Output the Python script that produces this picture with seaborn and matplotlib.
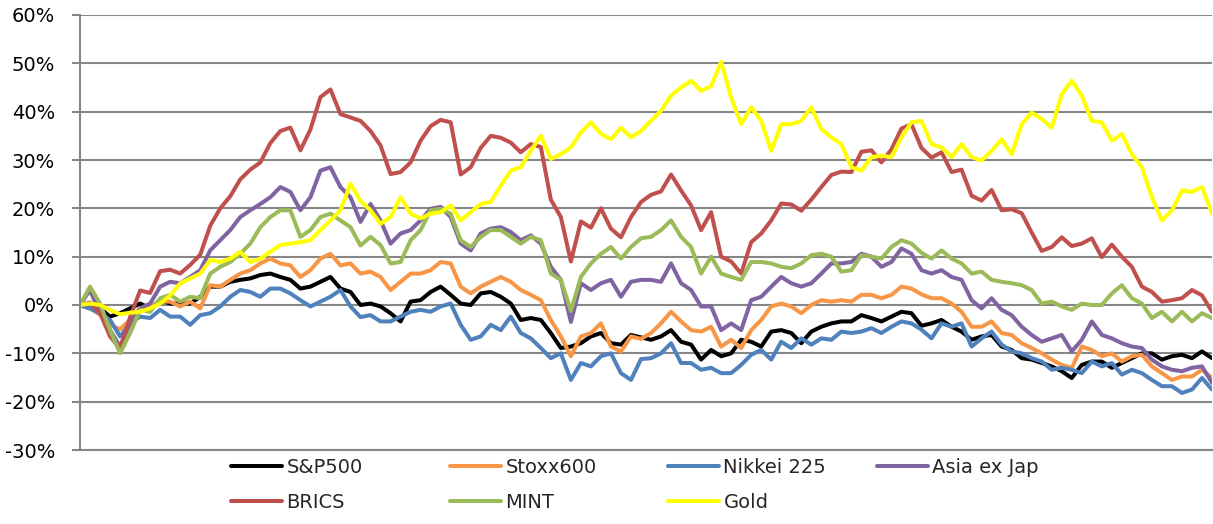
import numpy as np
import pandas as pd
import matplotlib
matplotlib.use("Agg")
import matplotlib.pyplot as plt
import seaborn as sns
from matplotlib.ticker import FuncFormatter, MultipleLocator

# Cumulative performance (%) per weekly observation
sp500 = [0, -0.7, -0.7, -2.4, -1.7, -0.7, 0.3, -0.7, 1, 0.3,
         0.3, 0.3, 1.7, 3.8, 3.8, 4.8, 5.2, 5.5, 6.2, 6.5,
         5.8, 5.2, 3.4, 3.8, 4.8, 5.8, 3.4, 2.7, 0, 0.3,
         -0.3, -1.7, -3.4, 0.7, 1, 2.7, 3.8, 2.1, 0.3, 0,
         2.4, 2.7, 1.7, 0.3, -3.1, -2.7, -3.1, -5.8, -8.9, -8.6,
         -7.9, -6.5, -5.8, -7.9, -8.2, -6.2, -6.7, -7.2, -6.5, -5.2,
         -7.6, -8.2, -11.3, -9.3, -10.6, -10, -7.2, -7.6, -8.6, -5.5,
         -5.2, -5.8, -7.9, -5.5, -4.5, -3.8, -3.4, -3.4, -2.1, -2.7,
         -3.4, -2.4, -1.4, -1.7, -4.3, -3.8, -3.1, -4.5, -5.5, -7.2,
         -6.5, -6.2, -8.6, -9.3, -11, -11.3, -12, -12.7, -13.7, -15.1,
         -12.4, -11.7, -11.7, -13, -12, -11, -10, -10, -11.3, -10.6,
         -10.3, -11, -9.6, -11]

stoxx600 = [0, -0.7, -2, -4.1, -5, -3.1, -0.7, -0.3, 0.7, 0.7,
            -0.3, 0.7, -0.7, 4.1, 3.8, 5.2, 6.5, 7.2, 8.6, 9.6,
            8.6, 8.2, 5.8, 7.2, 9.6, 10.6, 8.2, 8.6, 6.5, 6.9,
            5.8, 3.1, 4.8, 6.5, 6.5, 7.2, 8.9, 8.6, 3.8, 2.4,
            3.8, 4.8, 5.8, 4.8, 3.1, 2.1, 1, -3.1, -6.5, -10.6,
            -6.5, -5.8, -3.8, -8.6, -9.6, -6.5, -7, -5.8, -3.8, -1.4,
            -3.4, -5.2, -5.5, -4.5, -8.6, -7.2, -8.9, -5.2, -3.1, -0.3,
            0.3, -0.3, -1.7, 0, 1, 0.7, 1, 0.7, 2.1, 2.1,
            1.4, 2.1, 3.8, 3.4, 2.2, 1.4, 1.4, 0.3, -1.4, -4.5,
            -4.5, -3.4, -5.8, -6.2, -7.9, -8.9, -10, -11.3, -12.4, -13,
            -8.6, -9.3, -10.6, -10, -11.7, -10.6, -10.3, -12.7, -14.1, -15.5,
            -14.8, -14.8, -13.4, -15.1]

nikkei225 = [0, -0.7, -1.7, -3.1, -6.5, -3.8, -2.4, -2.7, -1, -2.4,
             -2.4, -4.1, -2.1, -1.7, -0.3, 1.7, 3.1, 2.7, 1.7, 3.4,
             3.4, 2.4, 1, -0.3, 0.7, 1.7, 3.1, -0.3, -2.5, -2.1,
             -3.4, -3.4, -2.4, -1.4, -1, -1.4, -0.3, 0.3, -4.1, -7.2,
             -6.5, -4.1, -5.2, -2.4, -5.8, -6.9, -8.9, -11, -10, -15.5,
             -12, -12.7, -10.6, -10, -14.1, -15.5, -11.2, -11, -10, -7.9,
             -12, -12, -13.4, -13, -14.1, -14.1, -12.4, -10.3, -9.3, -11.3,
             -7.6, -8.9, -6.9, -8.2, -6.9, -7.2, -5.5, -5.8, -5.5, -4.8,
             -5.8, -4.5, -3.4, -3.8, -5.1, -6.9, -3.8, -4.5, -3.8, -8.6,
             -6.9, -5.5, -8.2, -9.6, -10, -11, -11.7, -13.4, -13, -13.4,
             -14.1, -11.7, -12.7, -12, -14.4, -13.4, -14.1, -15.5, -16.8, -16.8,
             -18.2, -17.5, -15.1, -17.5]

asia_ex_jap = [0, 3.1, -1.7, -5.2, -8.6, -3.8, -0.7, 0.3, 3.8, 4.8,
               4.5, 5.8, 7.2, 11.3, 13.4, 15.5, 18.2, 19.6, 20.9, 22.3,
               24.4, 23.4, 19.6, 22.3, 27.8, 28.5, 24.4, 22.3, 17.2, 20.9,
               17.5, 12.7, 14.8, 15.5, 17.5, 19.9, 20.3, 18.2, 12.7, 11.3,
               14.8, 15.8, 16.1, 15.1, 13.4, 14.4, 12.7, 7.9, 5.2, -3.5,
               4.5, 3.1, 4.5, 5.2, 1.7, 4.8, 5.2, 5.2, 4.8, 8.6,
               4.5, 3.1, -0.3, -0.3, -5.2, -3.8, -5.2, 1.0, 1.7, 3.8,
               5.8, 4.5, 3.8, 4.5, 6.5, 8.6, 8.6, 8.9, 10.6, 10,
               7.9, 8.9, 11.7, 10.6, 7.2, 6.5, 7.2, 5.8, 5.2, 1.0,
               -0.7, 1.4, -1, -2.1, -4.5, -6.2, -7.6, -6.9, -6.2, -9.6,
               -7.2, -3.4, -6.2, -6.9, -7.9, -8.6, -8.9, -11.3, -12.7, -13.4,
               -13.7, -13, -12.7, -16.1]

brics = [0, 0.5, -1.7, -6.5, -9, -2.5, 3, 2.5, 7, 7.3,
         6.5, 8.3, 10.4, 16.4, 20, 22.5, 26, 28, 29.5, 33.5,
         36, 36.7, 32, 36.3, 43, 44.6, 39.5, 38.8, 38.1, 36,
         33, 27.1, 27.5, 29.5, 34, 37, 38.3, 37.8, 27, 28.5,
         32.5, 35, 34.6, 33.6, 31.6, 33.3, 32.7, 21.8, 18.2, 9,
         17.3, 16, 20, 15.8, 14, 18.2, 21.3, 22.8, 23.5, 27,
         23.7, 20.6, 15.5, 19.2, 10, 9, 6.5, 13, 14.8, 17.5,
         21, 20.8, 19.5, 21.8, 24.4, 26.9, 27.6, 27.5, 31.7, 32,
         29.5, 32.2, 36.5, 37.4, 32.5, 30.5, 31.6, 27.5, 28, 22.6,
         21.6, 23.8, 19.6, 19.8, 19, 15, 11.2, 12, 14, 12.2,
         12.7, 13.8, 9.9, 12.5, 10, 7.9, 3.8, 2.7, 0.7, 1,
         1.4, 3.1, 2, -1.4]

mint = [0, 3.8, 0.3, -5.2, -10, -5.8, -1, -1.4, 1.4, 2.1,
        0.7, 1.7, 1.4, 6.5, 7.9, 8.9, 10.6, 12.7, 16.1, 18.2,
        19.6, 19.6, 14.1, 15.5, 18.2, 18.9, 17.5, 16.1, 12.3, 14.1,
        12.4, 8.6, 8.9, 13.4, 15.5, 19.6, 19.9, 18.9, 13.4, 12,
        14.1, 15.5, 15.5, 14.1, 12.7, 14.1, 13.4, 6.5, 5.2, -1.2,
        5.8, 8.6, 10.6, 12, 9.6, 12, 13.8, 14.1, 15.5, 17.5,
        14.1, 12, 6.5, 10, 6.5, 5.8, 5.2, 8.9, 8.9, 8.6,
        7.9, 7.6, 8.6, 10.3, 10.6, 10, 6.9, 7.2, 10.3, 10,
        9.6, 12, 13.4, 12.7, 10.8, 9.6, 11.3, 9.6, 8.6, 6.5,
        6.9, 5.2, 4.8, 4.5, 4.1, 3.1, 0.3, 0.7, -0.3, -1,
        0.3, 0, 0, 2.4, 4.1, 1.4, 0.3, -2.7, -1.4, -3.4,
        -1.4, -3.4, -1.7, -2.7]

gold = [0, 0.3, 0, -1, -1.9, -1.6, -1.4, -0.7, 0.3, 2,
        4.5, 5.5, 6.5, 9.3, 8.9, 9.6, 11, 8.9, 9.6, 11,
        12.4, 12.7, 13, 13.4, 15.5, 17.5, 19.6, 25.1, 21.5, 19.6,
        16.8, 18.2, 22.3, 18.9, 17.9, 18.9, 19.2, 20.6, 17.5, 19.2,
        20.9, 21.3, 24.7, 27.8, 28.5, 31.9, 35, 30.2, 31.2, 32.6,
        35.7, 37.8, 35.4, 34.3, 36.7, 34.7, 36, 38.1, 40.2, 43.3,
        45, 46.4, 44.3, 45.3, 50.3, 42.9, 37.4, 40.9, 38.1, 31.9,
        37.4, 37.4, 38.1, 40.9, 36.4, 34.7, 33.3, 28.5, 27.8, 30.6,
        30.9, 30.6, 34.7, 37.8, 38.1, 33.3, 32.6, 30.6, 33.3, 30.6,
        29.9, 31.9, 34.3, 31.2, 37.4, 39.8, 38.5, 36.7, 43.6, 46.4,
        43.3, 38.1, 37.8, 34, 35.4, 31.2, 28.5, 22.3, 17.5, 19.6,
        23.7, 23.4, 24.4, 18.9]

series_names = ["S&P500", "Stoxx600", "Nikkei 225", "Asia ex Jap",
                "BRICS", "MINT", "Gold"]
series_values = [sp500, stoxx600, nikkei225, asia_ex_jap, brics, mint, gold]
colors = ["#000000", "#F79646", "#4F81BD", "#8064A2",
          "#C0504D", "#9BBB59", "#FFFF00"]

sns.set_style("white")
plt.rcParams["font.family"] = ["DejaVu Sans"]

frames = []
for name, vals in zip(series_names, series_values):
    frames.append(pd.DataFrame({"week": np.arange(len(vals)),
                                "perf": vals,
                                "index": name}))
df = pd.concat(frames, ignore_index=True)

W, H = 1213, 524
fig = plt.figure(figsize=(W / 100, H / 100), dpi=100)
ax = fig.add_axes([80 / W, 1 - 450 / H, 1132 / W, 435 / H])

sns.lineplot(data=df, x="week", y="perf", hue="index",
             hue_order=series_names, palette=colors, linewidth=2.9,
             legend=False, sort=False, ax=ax)

ax.set_xlim(0, len(sp500) - 1)
ax.set_ylim(-30, 60)
ax.yaxis.set_major_locator(MultipleLocator(10))
ax.yaxis.set_major_formatter(FuncFormatter(lambda v, p: f"{v:.0f}%"))
ax.set_xticks([])
ax.set_xlabel("")
ax.set_ylabel("")

grid_color = "#868686"
ax.grid(axis="y", color=grid_color, linewidth=1.5)
ax.set_axisbelow(True)
for side in ["top", "right"]:
    ax.spines[side].set_visible(False)
for side in ["left", "bottom"]:
    ax.spines[side].set_color(grid_color)
    ax.spines[side].set_linewidth(1.5)
ax.tick_params(axis="y", left=True, length=6, width=1.5, color=grid_color,
               direction="out", pad=12, labelsize=14, labelcolor="black")

# Legend laid out as evenly spaced columns under the plot
lines = ax.get_lines()
columns = [[0, 4], [1, 5], [2, 6], [3]]
col_x = [231, 450, 668, 877]
for idx, x0 in zip(columns, col_x):
    fig.legend([lines[i] for i in idx], [series_names[i] for i in idx],
               loc="upper left", bbox_to_anchor=(x0 / W, 1 - 458 / H),
               frameon=False, borderpad=0, borderaxespad=0,
               handlelength=2.6, handletextpad=0.25, labelspacing=0.8,
               fontsize=14)

fig.savefig("out.png", dpi=100)
